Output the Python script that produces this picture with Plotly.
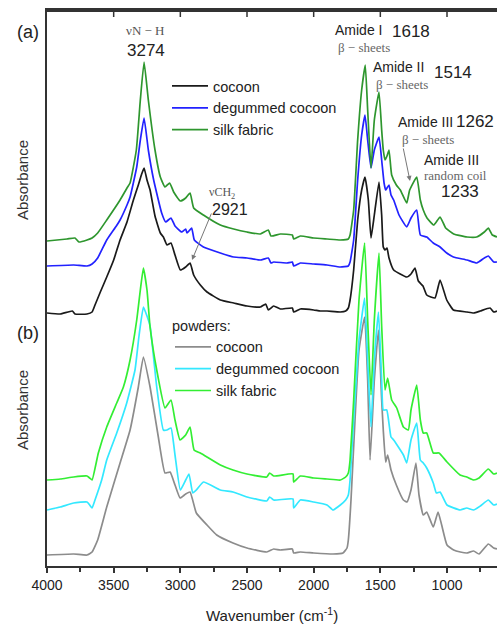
import plotly.graph_objects as go

# ---------------- data (wavenumber in cm-1, absorbance in a.u., offset) ----------------
wn_a_cocoon = [4000, 3900, 3810, 3790, 3700, 3662, 3640, 3600, 3552, 3500, 3452, 3400, 3352, 3315, 3290, 3272,
               3250, 3227, 3190, 3150, 3127, 3100, 3070, 3040, 3000, 2960, 2927, 2900, 2850, 2800, 2700, 2600,
               2500, 2400, 2360, 2340, 2300, 2250, 2160, 2150, 2100, 2000, 1950, 1900, 1800, 1760, 1740, 1727,
               1700, 1670, 1640, 1615, 1590, 1570, 1545, 1510, 1490, 1478, 1465, 1450, 1435, 1400, 1302, 1270,
               1240, 1215, 1180, 1152, 1090, 1052, 1002, 952, 850, 800, 750, 677, 650, 625]
abs_a_cocoon = [2.53, 2.52, 2.55, 2.52, 2.52, 2.54, 2.61, 2.74, 2.89, 3.06, 3.26, 3.44, 3.66, 3.81, 3.92, 3.98,
                3.86, 3.76, 3.50, 3.33, 3.29, 3.21, 3.23, 3.11, 2.96, 2.99, 3.03, 2.91, 2.81, 2.74, 2.66, 2.63,
                2.60, 2.59, 2.62, 2.56, 2.60, 2.57, 2.58, 2.54, 2.57, 2.56, 2.55, 2.55, 2.54, 2.55, 2.58, 2.66,
                2.96, 3.46, 3.76, 3.89, 3.66, 3.28, 3.51, 3.84, 3.51, 3.19, 3.16, 3.18, 3.08, 2.96, 2.89, 2.92,
                2.98, 2.85, 2.80, 2.71, 2.68, 2.86, 2.66, 2.56, 2.54, 2.53, 2.55, 2.58, 2.54, 2.55]

wn_a_degummed = [4000, 3800, 3700, 3662, 3620, 3552, 3480, 3452, 3400, 3377, 3327, 3300, 3272, 3240, 3200, 3140,
                 3110, 3070, 3040, 2990, 2960, 2950, 2915, 2895, 2827, 2700, 2600, 2500, 2400, 2340, 2320, 2300,
                 2200, 2160, 2150, 2100, 2000, 1900, 1800, 1740, 1727, 1700, 1670, 1640, 1615, 1595, 1570, 1545,
                 1510, 1490, 1472, 1460, 1450, 1435, 1420, 1400, 1360, 1302, 1270, 1227, 1200, 1152, 1103, 1052,
                 1002, 952, 850, 777, 720, 690, 650, 625]
abs_a_degummed = [3.00, 3.01, 3.00, 3.02, 3.08, 3.26, 3.40, 3.46, 3.61, 3.69, 3.99, 4.26, 4.48, 4.16, 3.86, 3.53,
                  3.44, 3.48, 3.40, 3.34, 3.37, 3.33, 3.38, 3.26, 3.19, 3.13, 3.09, 3.08, 3.06, 3.08, 3.03, 3.04,
                  3.03, 3.04, 3.00, 3.03, 3.02, 3.01, 2.99, 3.00, 3.04, 3.26, 3.86, 4.31, 4.51, 4.26, 3.98, 4.16,
                  4.29, 4.06, 3.83, 3.76, 3.78, 3.81, 3.71, 3.66, 3.51, 3.39, 3.48, 3.56, 3.31, 3.29, 3.23, 3.19,
                  3.13, 3.09, 3.06, 3.03, 3.08, 3.10, 3.04, 3.04]

wn_a_fabric = [4000, 3850, 3790, 3760, 3700, 3662, 3620, 3552, 3452, 3400, 3377, 3330, 3300, 3272, 3240, 3190,
               3150, 3115, 3080, 3050, 3000, 2960, 2927, 2900, 2827, 2700, 2600, 2500, 2400, 2340, 2320, 2250,
               2160, 2150, 2100, 2000, 1900, 1800, 1740, 1727, 1700, 1670, 1640, 1613, 1595, 1570, 1545, 1510,
               1490, 1478, 1465, 1450, 1435, 1415, 1380, 1350, 1302, 1280, 1227, 1200, 1178, 1150, 1100, 1052,
               1010, 950, 850, 777, 720, 690, 660, 625]
abs_a_fabric = [3.25, 3.27, 3.28, 3.24, 3.26, 3.28, 3.33, 3.46, 3.66, 3.78, 3.83, 4.16, 4.66, 5.04, 4.66, 4.16,
                3.89, 3.79, 3.83, 3.74, 3.65, 3.68, 3.73, 3.58, 3.51, 3.41, 3.37, 3.34, 3.32, 3.36, 3.30, 3.32,
                3.31, 3.27, 3.30, 3.28, 3.27, 3.26, 3.27, 3.31, 3.56, 4.26, 4.76, 5.01, 4.56, 3.98, 4.46, 4.74,
                4.36, 4.16, 4.06, 4.10, 4.16, 3.91, 3.81, 3.76, 3.63, 3.76, 3.89, 3.66, 3.56, 3.48, 3.41, 3.49,
                3.38, 3.32, 3.29, 3.29, 3.34, 3.38, 3.31, 3.29]

wn_b_cocoon = [4000, 3800, 3700, 3662, 3620, 3552, 3452, 3377, 3315, 3277, 3227, 3165, 3115, 3077, 3040, 3002,
               2960, 2927, 2880, 2800, 2727, 2605, 2500, 2352, 2300, 2250, 2160, 2150, 2100, 2000, 1855, 1780,
               1750, 1740, 1720, 1690, 1660, 1618, 1595, 1577, 1545, 1514, 1490, 1478, 1460, 1445, 1420, 1380,
               1327, 1300, 1270, 1233, 1210, 1178, 1152, 1103, 1067, 1040, 1000, 950, 900, 852, 800, 760,
               690, 650, 625]
abs_b_cocoon = [0.11, 0.12, 0.11, 0.14, 0.26, 0.59, 1.03, 1.36, 1.79, 2.09, 1.79, 1.29, 0.93, 0.94, 0.81, 0.68,
                0.72, 0.74, 0.53, 0.41, 0.31, 0.23, 0.18, 0.14, 0.17, 0.16, 0.17, 0.13, 0.14, 0.13, 0.12, 0.13,
                0.18, 0.26, 0.66, 1.46, 2.16, 2.49, 1.86, 1.06, 1.86, 2.36, 1.66, 1.36, 1.04, 1.11, 0.96, 0.81,
                0.66, 0.64, 0.76, 1.03, 0.71, 0.51, 0.54, 0.39, 0.54, 0.41, 0.21, 0.16, 0.14, 0.13, 0.15, 0.12,
                0.22, 0.18, 0.17]

wn_b_degummed = [4000, 3900, 3800, 3700, 3680, 3662, 3640, 3590, 3552, 3477, 3402, 3340, 3310, 3277, 3250, 3227,
                 3177, 3127, 3100, 3070, 3040, 3000, 2960, 2935, 2907, 2880, 2827, 2700, 2605, 2500, 2352, 2330,
                 2300, 2155, 2150, 2100, 2000, 1900, 1855, 1800, 1760, 1740, 1727, 1700, 1660, 1618, 1595, 1570,
                 1545, 1514, 1490, 1478, 1452, 1420, 1400, 1327, 1302, 1270, 1227, 1200, 1178, 1152, 1103, 1080,
                 1052, 1000, 902, 852, 800, 750, 690, 650, 625]
abs_b_degummed = [0.56, 0.59, 0.63, 0.64, 0.61, 0.58, 0.66, 0.86, 1.06, 1.33, 1.63, 1.96, 2.30, 2.59, 2.50, 2.40,
                  1.79, 1.36, 1.36, 1.38, 1.11, 0.76, 0.86, 0.92, 0.73, 0.76, 0.84, 0.76, 0.74, 0.69, 0.65, 0.69,
                  0.66, 0.67, 0.58, 0.66, 0.64, 0.61, 0.56, 0.61, 0.66, 0.71, 0.86, 1.46, 2.26, 2.68, 2.06, 1.39,
                  2.06, 2.54, 1.86, 1.56, 1.56, 1.29, 1.26, 1.11, 1.03, 1.26, 1.43, 1.06, 1.03, 0.98, 0.83, 0.73,
                  0.74, 0.61, 0.56, 0.58, 0.56, 0.60, 0.66, 0.61, 0.62]

wn_b_fabric = [4000, 3900, 3800, 3700, 3680, 3662, 3615, 3552, 3477, 3427, 3377, 3327, 3300, 3277, 3250, 3227,
               3177, 3115, 3070, 3040, 3002, 2960, 2927, 2897, 2850, 2700, 2605, 2500, 2352, 2330, 2300, 2155,
               2150, 2100, 2000, 1900, 1800, 1760, 1740, 1727, 1700, 1660, 1618, 1595, 1570, 1545, 1510, 1490,
               1465, 1445, 1415, 1377, 1327, 1290, 1270, 1227, 1200, 1178, 1152, 1103, 1060, 1000, 902, 852,
               800, 760, 690, 650, 625]
abs_b_fabric = [0.86, 0.87, 0.89, 0.90, 0.88, 0.86, 1.13, 1.39, 1.63, 1.79, 2.06, 2.46, 2.76, 2.98, 2.76, 2.39,
                1.96, 1.58, 1.66, 1.46, 1.26, 1.31, 1.39, 1.16, 1.13, 1.01, 0.96, 0.92, 0.89, 0.93, 0.90, 0.92,
                0.84, 0.90, 0.88, 0.87, 0.86, 0.89, 0.93, 1.06, 1.66, 2.66, 3.23, 2.46, 1.71, 2.46, 3.13, 2.40,
                1.76, 1.88, 1.66, 1.58, 1.39, 1.36, 1.56, 1.81, 1.46, 1.33, 1.33, 1.13, 1.13, 1.04, 0.91, 0.89,
                0.86, 0.88, 0.97, 0.92, 0.93]

labels = ["cocoon", "degummed cocoon", "silk fabric"]
x_ticks = [4000, 3500, 3000, 2500, 2000, 1500, 1000]
x_range = [4000, 625]
y_range = [0, 5.56]

# ---------------- figure ----------------
W, H = 497, 625
ML, MR, MT, MB = 47, 0, 10, 59
PW, PH = W - ML - MR, H - MT - MB


def fx(p):
    return (p - ML) / PW


def fy(p):
    return 1 - (p - MT) / PH


SANS = "Liberation Sans, Arial, sans-serif"
SERIF = "Liberation Serif, Times New Roman, serif"
AX = "#333333"

fig = go.Figure()

series_a = [(wn_a_cocoon, abs_a_cocoon, "#1a1a1a"),
            (wn_a_degummed, abs_a_degummed, "#2222ff"),
            (wn_a_fabric, abs_a_fabric, "#2e962e")]
series_b = [(wn_b_cocoon, abs_b_cocoon, "#8c8c8c"),
            (wn_b_degummed, abs_b_degummed, "#33e8ff"),
            (wn_b_fabric, abs_b_fabric, "#33ee33")]

for (x, y, c), name in zip(series_a, labels):
    fig.add_trace(go.Scatter(x=x, y=y, mode="lines", name=name, legend="legend",
                             line=dict(color=c, width=1.7, shape="spline", smoothing=0.4)))
for (x, y, c), name in zip(series_b, labels):
    fig.add_trace(go.Scatter(x=x, y=y, mode="lines", name=name, legend="legend2",
                             line=dict(color=c, width=1.7, shape="spline", smoothing=0.4)))

# top frame line and inward-pointing top ticks (axis decoration), just inside the plot top
top = 1 - 1 / PH
shapes = [dict(type="line", xref="paper", yref="paper", x0=0, x1=1, y0=top, y1=top,
               line=dict(color=AX, width=2), layer="above")]
shapes += [dict(type="line", xref="x", yref="paper", x0=t, x1=t, y0=top, y1=top - 6 / PH,
                line=dict(color=AX, width=1.5), layer="above") for t in x_ticks[1:]]

ann = []


def txt(x, y, s, size, font=SANS, color="#222222", xanchor="center", **kw):
    ann.append(dict(x=fx(x), y=fy(y), xref="paper", yref="paper", text=s, showarrow=False,
                    xanchor=xanchor, yanchor="middle", font=dict(family=font, size=size, color=color), **kw))


txt(28, 32, "(a)", 18)
txt(28, 333, "(b)", 18)
txt(22, 180, "Absorbance", 15, color="#333333", textangle=-90)
txt(22, 410, "Absorbance", 15, color="#333333", textangle=-90)
txt(272, 614, "Wavenumber (cm<sup>-1</sup>)", 15)

txt(145, 31, "νN − H", 13, font=SERIF, color="#555555")
txt(146, 50, "3274", 17)

txt(333, 30, "Amide I", 14, xanchor="left")
txt(390, 32, "1618", 17, xanchor="left")
txt(336, 47, "β − sheets", 13, font=SERIF, color="#666666", xanchor="left")

txt(371, 67, "Amide II", 14, xanchor="left")
txt(432, 73, "1514", 17, xanchor="left")
txt(374, 84, "β − sheets", 13, font=SERIF, color="#666666", xanchor="left")

txt(396, 122, "Amide III", 14, xanchor="left")
txt(454, 122, "1262", 17, xanchor="left")
txt(400, 139, "β − sheets", 13, font=SERIF, color="#666666", xanchor="left")

txt(422, 160, "Amide III", 14, xanchor="left")
txt(422, 176, "random coil", 13, font=SERIF, color="#666666", xanchor="left")
txt(439, 192, "1233", 17, xanchor="left")

txt(207, 193, "νCH<sub>2</sub>", 12, font=SERIF, color="#555555", xanchor="left")
txt(210, 209, "2921", 16, xanchor="left")

# arrows
ann.append(dict(x=fx(192), y=fy(260), xref="paper", yref="paper", text="", showarrow=True,
                ax=20, ay=-48, arrowhead=2, arrowsize=1, arrowwidth=1, arrowcolor="#777777"))
ann.append(dict(x=fx(410), y=fy(181), xref="paper", yref="paper", text="", showarrow=True,
                ax=-7, ay=-34, arrowhead=2, arrowsize=1, arrowwidth=1, arrowcolor="#777777"))

fig.update_layout(
    width=W, height=H,
    margin=dict(l=ML, r=MR, t=MT, b=MB),
    paper_bgcolor="white", plot_bgcolor="white",
    font=dict(family=SANS, color="#222222"),
    xaxis=dict(range=x_range, autorange=False, showgrid=False, zeroline=False,
               showline=True, mirror=True, linecolor=AX, linewidth=2,
               ticks="outside", tickvals=x_ticks, ticklen=5, tickwidth=1.5, tickcolor=AX,
               minor=dict(ticks="outside", dtick=250, tick0=0, ticklen=4, tickwidth=1.5, tickcolor=AX),
               tickfont=dict(size=14, color="#222222")),
    yaxis=dict(range=y_range, autorange=False, showgrid=False, zeroline=False, showline=True,
               linecolor=AX, linewidth=2, ticks="", showticklabels=False),
    legend=dict(x=fx(167), y=fy(70), xanchor="left", yanchor="top", bgcolor="rgba(0,0,0,0)",
                font=dict(size=14.5, color="#222222"), tracegroupgap=0, itemwidth=36),
    legend2=dict(x=fx(170), y=fy(312), xanchor="left", yanchor="top", bgcolor="rgba(0,0,0,0)",
                 font=dict(size=14.5, color="#222222"), itemwidth=36,
                 title=dict(text="powders:", font=dict(size=14.5, color="#222222"))),
    shapes=shapes,
    annotations=ann,
    showlegend=True,
)

fig.write_html("out.html")
